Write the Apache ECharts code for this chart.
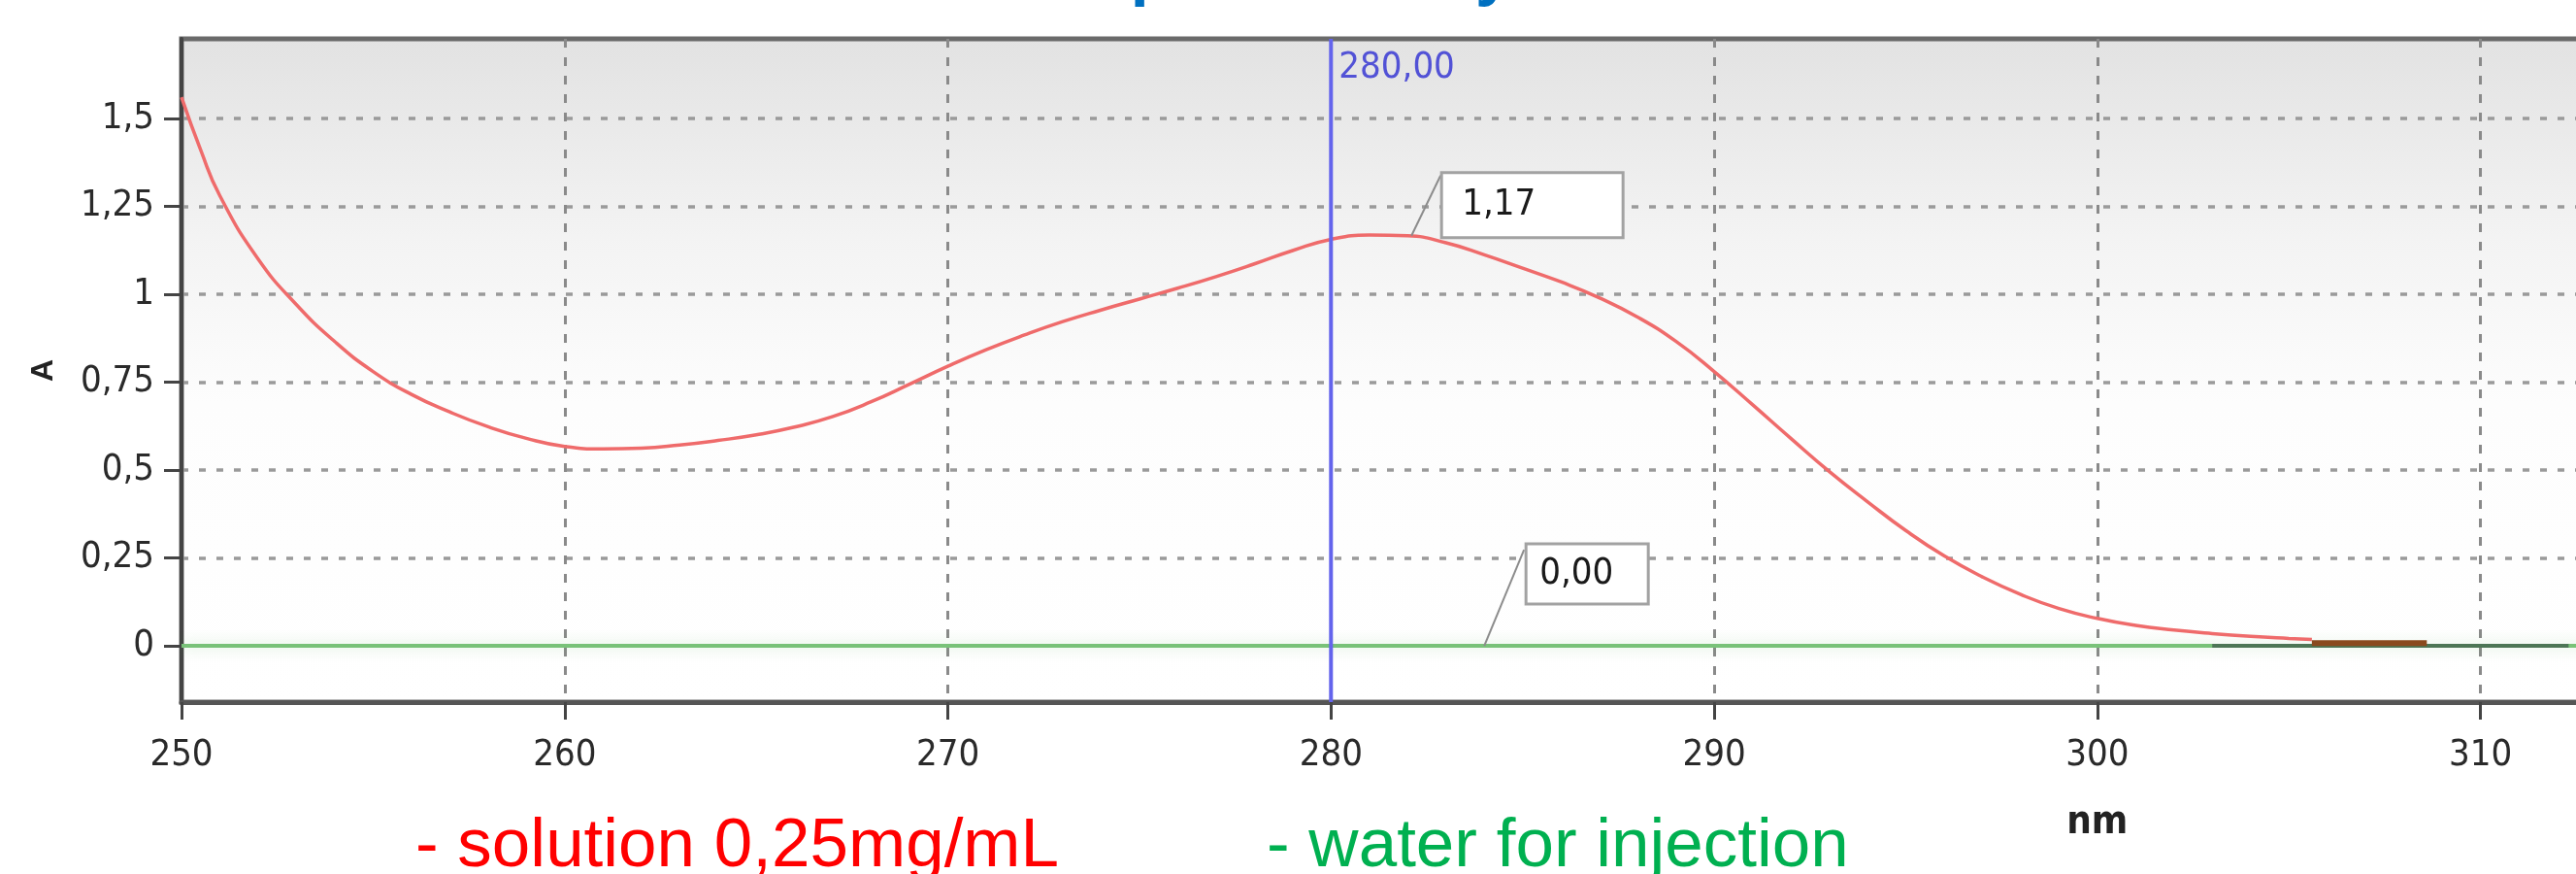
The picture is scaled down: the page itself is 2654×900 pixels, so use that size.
<!DOCTYPE html>
<html>
<head>
<meta charset="utf-8">
<script src="https://cdn.jsdelivr.net/npm/echarts@6/dist/echarts.min.js"></script>
<style>
html,body{margin:0;padding:0;background:#fff;}
#c{width:2654px;height:900px;}
</style>
</head>
<body>
<div id="c"></div>
<script>
// ---- data ----
const wavelengths = [250, 250.5, 251, 252, 253, 254, 255, 256, 257, 258, 259, 260, 261, 262, 263, 264, 265, 266, 267, 268, 269, 270,
  271, 272, 273, 274, 275, 276, 277, 278, 279, 280, 281, 282, 283, 284, 285, 286, 287, 288, 289, 290,
  291, 292, 293, 294, 295, 296, 297, 298, 299, 300, 301, 302, 303, 304, 305, 305.6];
const sampleAbs = [1.56, 1.41, 1.28, 1.10, 0.97, 0.865, 0.78, 0.715, 0.665, 0.623, 0.59, 0.567, 0.56, 0.562, 0.571, 0.584, 0.60, 0.622, 0.652, 0.694, 0.744, 0.795,
  0.842, 0.884, 0.922, 0.955, 0.986, 1.017, 1.05, 1.086, 1.124, 1.156, 1.168, 1.166, 1.146, 1.112, 1.074, 1.035, 0.99, 0.935, 0.866, 0.78,
  0.686, 0.59, 0.496, 0.41, 0.328, 0.256, 0.196, 0.146, 0.106, 0.078, 0.058, 0.045, 0.035, 0.027, 0.021, 0.018];
const blankX = [250, 313];
const blankAbs = [0, 0];
const overlayDarkX = [303, 312.3];
const overlayDarkAbs = [0, 0];
const overlayBrownX = [305.6, 308.6];
const overlayBrownAbs = [0.008, 0.008];
const cursorX = 280;
const cursorLabel = '280,00';
const peakPoint = [282.1, 1.166];
const peakLabel = '1,17';
const blankPoint = [284, 0];
const blankLabel = '0,00';
const xTicks = [250, 260, 270, 280, 290, 300, 310];
const yTicks = [0, 0.25, 0.5, 0.75, 1, 1.25, 1.5];
const titleText = 'UV Spectrometry';
const legendSample = '- solution 0,25mg/mL';
const legendBlank = '- water for injection';
const xName = 'nm';
const yName = 'A';

const zip = (xs, ys) => xs.map((x, i) => [x, ys[i]]);
const comma = v => String(v).replace('.', ',');
const NARROW = "'Liberation Sans Narrow', 'Arial Narrow', 'DejaVu Sans Condensed', sans-serif";

const chart = echarts.init(document.getElementById('c'), null, {renderer: 'canvas'});
chart.setOption({
  animation: false,
  backgroundColor: '#ffffff',
  grid: {
    left: 187, right: -20, top: 40, bottom: 177,
    outerBoundsMode: 'none',
    containLabel: false,
    show: true,
    borderColor: '#6a6a6a',
    borderWidth: 5,
    backgroundColor: new echarts.graphic.LinearGradient(0, 0, 0, 1, [
      {offset: 0, color: '#e2e2e2'},
      {offset: 0.3, color: '#f3f3f3'},
      {offset: 0.55, color: '#fdfdfd'},
      {offset: 1, color: '#ffffff'}
    ])
  },
  xAxis: {
    type: 'value', min: 250, max: 313, interval: 10,
    axisLine: {show: true, onZero: false, lineStyle: {color: '#555', width: 5}},
    axisTick: {show: true, inside: false, length: 18, lineStyle: {color: '#444', width: 3}},
    axisLabel: {
      margin: 36, color: '#2a2a2a', fontSize: 38, fontFamily: NARROW,
      showMaxLabel: false,
      formatter: v => xTicks.indexOf(v) >= 0 ? String(v) : ''
    },
    splitLine: {show: true, lineStyle: {color: '#8a8a8a', width: 3, type: [9, 10]}}
  },
  yAxis: {
    type: 'value', min: -0.16, max: 1.726,
    name: yName, nameLocation: 'middle', nameGap: 126, nameRotate: 90,
    nameTextStyle: {fontSize: 32, fontWeight: 'bold', color: '#222', fontFamily: "'Liberation Sans', sans-serif"},
    axisLine: {show: true, onZero: false, lineStyle: {color: '#444', width: 4}},
    axisTick: {show: true, inside: false, length: 18, customValues: yTicks, lineStyle: {color: '#444', width: 3}},
    axisLabel: {
      margin: 28, color: '#2a2a2a', fontSize: 38, fontFamily: NARROW,
      customValues: yTicks,
      formatter: v => comma(v)
    },
    splitLine: {show: true, lineStyle: {color: '#9a9a9a', width: 3.5, type: [7, 11]}}
  },
  series: [
    {
      name: 'water', type: 'line', showSymbol: false, silent: true,
      data: zip(blankX, blankAbs),
      lineStyle: {color: '#79c279', width: 4, shadowColor: 'rgba(60,170,60,0.25)', shadowBlur: 14}
    },
    {
      name: 'sample', type: 'line', showSymbol: false, silent: true, smooth: 0.5,
      data: zip(wavelengths, sampleAbs),
      lineStyle: {color: '#ef6b6b', width: 3.5}
    },
    {
      name: 'overlay1', type: 'line', showSymbol: false, silent: true,
      data: zip(overlayDarkX, overlayDarkAbs),
      lineStyle: {color: '#4d7656', width: 4}
    },
    {
      name: 'overlay2', type: 'line', showSymbol: false, silent: true,
      data: zip(overlayBrownX, overlayBrownAbs),
      lineStyle: {color: '#8a4a1e', width: 6}
    },
    {
      name: 'cursor', type: 'line', showSymbol: false, silent: true,
      data: [[cursorX, -0.16], [cursorX, 1.726]],
      lineStyle: {color: '#6464ec', width: 4}
    }
  ]
});

const px = p => chart.convertToPixel({gridIndex: 0}, p);
const peakPx = px(peakPoint);
const blankPx = px(blankPoint);
const curPx = px([cursorX, 1.726]);
const nmPx = px([300, -0.16]);

const boxText = (x, y, w, h, txt, tx) => ([
  {type: 'rect', z: 50, shape: {x: x, y: y, width: w, height: h},
   style: {fill: '#ffffff', stroke: '#a2a2a2', lineWidth: 3}},
  {type: 'text', z: 51, style: {text: txt, x: tx, y: y + h / 2, fill: '#1a1a1a',
   font: '38px ' + NARROW, verticalAlign: 'middle', align: 'left'}}
]);

chart.setOption({
  graphic: [
    {type: 'text', z: 60, style: {text: titleText, x: 1006, y: -26, fill: '#0070c0',
      font: 'bold 68px "Liberation Sans", Arial, sans-serif', verticalAlign: 'middle', align: 'left'}},
    {type: 'text', z: 60, style: {text: cursorLabel, x: curPx[0] + 8, y: 70, fill: '#5252d6',
      font: '38px ' + NARROW, verticalAlign: 'middle', align: 'left'}},
    {type: 'line', z: 49, shape: {x1: peakPx[0], y1: peakPx[1], x2: peakPx[0] + 30, y2: peakPx[1] - 62},
      style: {stroke: '#8c8c8c', lineWidth: 2}},
    ...boxText(peakPx[0] + 31, peakPx[1] - 65, 187, 67, peakLabel, peakPx[0] + 52),
    {type: 'line', z: 49, shape: {x1: blankPx[0], y1: blankPx[1], x2: blankPx[0] + 41, y2: blankPx[1] - 99},
      style: {stroke: '#8c8c8c', lineWidth: 2}},
    ...boxText(blankPx[0] + 43, blankPx[1] - 105, 126, 62, blankLabel, blankPx[0] + 57),
    {type: 'text', z: 60, style: {text: xName, x: nmPx[0], y: 848, fill: '#222',
      font: 'bold 40px ' + NARROW, verticalAlign: 'middle', align: 'center'}},
    {type: 'text', z: 60, style: {text: legendSample, x: 428, y: 872, fill: '#ff0000',
      font: '71px "Liberation Sans", Arial, sans-serif', verticalAlign: 'middle', align: 'left'}},
    {type: 'text', z: 60, style: {text: legendBlank, x: 1305, y: 872, fill: '#00b050',
      font: '71px "Liberation Sans", Arial, sans-serif', verticalAlign: 'middle', align: 'left'}}
  ]
});
</script>
</body>
</html>
